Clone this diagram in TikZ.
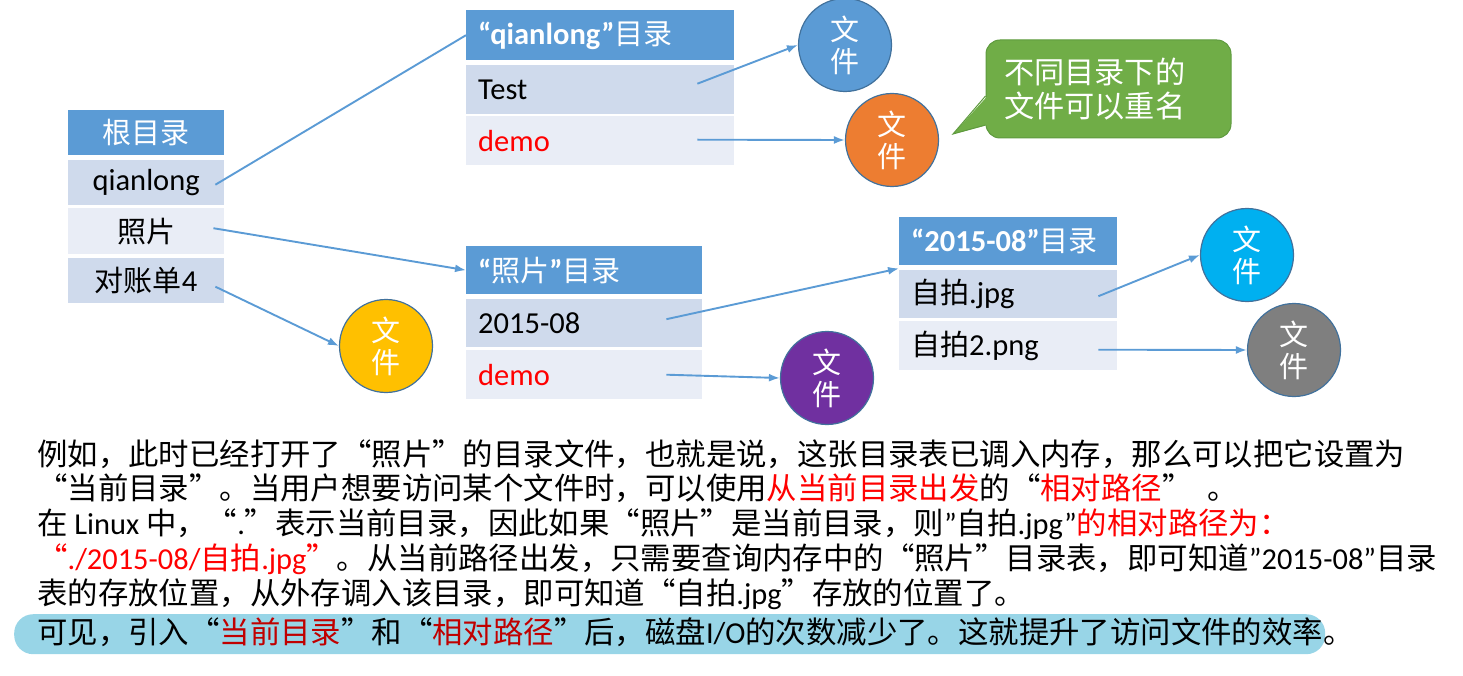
\documentclass[tikz,border=0pt]{standalone}
\usepackage{fontspec}
\setmainfont{Noto Sans CJK SC}
\newfontfamily\lat{Carlito}
\usetikzlibrary{arrows.meta}
\definecolor{hdrblue}{HTML}{5B9BD5}
\definecolor{rowdark}{HTML}{CFDAEC}
\definecolor{rowlight}{HTML}{E9EDF6}
\definecolor{arrowblue}{HTML}{5B9BD5}
\definecolor{circborder}{HTML}{41719C}
\definecolor{cblue}{HTML}{5B9BD5}
\definecolor{corange}{HTML}{ED7D31}
\definecolor{cyellow}{HTML}{FFC000}
\definecolor{cpurple}{HTML}{7030A0}
\definecolor{ccyan}{HTML}{00B0F0}
\definecolor{cgray}{HTML}{7F7F7F}
\definecolor{cgreen}{HTML}{70AD47}
\definecolor{cgreenb}{HTML}{5E9A3E}
\definecolor{hlcol}{RGB}{152,213,231}
\definecolor{dred}{HTML}{C00000}
\newcommand{\oq}{\makebox[1em][r]{“}}
\newcommand{\cq}{\makebox[1em][l]{”}}
\newcommand{\tlat}{\lat\fontsize{30.5}{32}\selectfont}
\tikzset{
  tcell/.style={rectangle, inner sep=0pt, anchor=north west, font=\fontsize{29}{32}\selectfont},
  hdr/.style={tcell, fill=hdrblue, text=white},
  rowd/.style={tcell, fill=rowdark, text=black},
  rowl/.style={tcell, fill=rowlight, text=black},
  lal/.style={text width=#1, align=left, inner xsep=12pt},
  filec/.style={circle, minimum size=93pt, inner sep=0pt, draw=circborder, line width=1.2pt, text=white, align=center, font=\fontsize{29}{32}\selectfont},
  conn/.style={draw=arrowblue, line width=1.9pt},
  arr/.style={conn, -{Latex[length=11pt,width=8pt]}},
  bodyline/.style={anchor=base west, inner sep=0pt, font=\fontsize{30.4}{35}\selectfont}
}
\begin{document}
\begin{tikzpicture}[x=1pt, y=-1pt]
\useasboundingbox (0,0) rectangle (1463,676);
% root table
\node[hdr, minimum width=156pt, minimum height=45pt] (rh) at (68,110) {根目录};
\node[rowd, minimum width=156pt, minimum height=45pt] (rq) at (68,160) {\tlat qianlong};
\node[rowl, minimum width=156pt, minimum height=46pt] (rp) at (68,208) {照片};
\node[rowd, minimum width=156pt, minimum height=45pt] (rd) at (68,258) {对账单{\tlat 4}};
% qianlong table
\node[hdr, minimum width=268pt, minimum height=50pt, lal=244pt] (qh) at (466,10) {{\tlat\bfseries “qianlong”}目录};
\node[rowd, minimum width=268pt, minimum height=49pt, lal=244pt] (qt) at (466,65) {\tlat Test};
\node[rowl, minimum width=268pt, minimum height=49pt, lal=244pt] (qd) at (466,116) {\tlat\color{red} demo};
% photo table
\node[hdr, minimum width=236pt, minimum height=48pt, lal=212pt] (ph) at (466,246) {{\tlat\bfseries “}照片{\tlat\bfseries ”}目录};
\node[rowd, minimum width=236pt, minimum height=48pt, lal=212pt] (p1) at (466,299) {\tlat 2015-08};
\node[rowl, minimum width=236pt, minimum height=49pt, lal=212pt] (p2) at (466,350) {\tlat\color{red} demo};
% 2015-08 table
\node[hdr, minimum width=218pt, minimum height=48pt, lal=194pt] (dh) at (899,217) {{\tlat\bfseries “2015-08”}目录};
\node[rowd, minimum width=218pt, minimum height=48pt, lal=194pt] (d1) at (899,270) {自拍{\tlat .jpg}};
\node[rowl, minimum width=218pt, minimum height=49pt, lal=194pt] (d2) at (899,321) {自拍{\tlat 2.png}};
% file circles
\node[filec, fill=cblue] (c1) at (845,45) {文\\件};
\node[filec, fill=corange] (c2) at (892,140) {文\\件};
\node[filec, fill=cyellow] (c3) at (386,346) {文\\件};
\node[filec, fill=cpurple] (c4) at (827,378) {文\\件};
\node[filec, fill=ccyan] (c5) at (1247,255) {文\\件};
\node[filec, fill=cgray] (c6) at (1294,350) {文\\件};
% callout
\node[rectangle, rounded corners=14pt, fill=cgreen, draw=cgreenb, line width=1pt, minimum width=245pt, minimum height=98pt, text width=209pt, align=left, inner xsep=18pt, text=white, font=\fontsize{30.2}{34}\selectfont] (co) at (1108.5,89) {不同目录下的\\文件可以重名};
\coordinate (tip) at (953,134);
\fill[cgreen] ([xshift=2pt,yshift=-7pt]co.west) -- (tip) -- ([xshift=2pt,yshift=-36pt]co.west) -- cycle;
\draw[cgreenb, line width=1pt, line join=miter] ([yshift=-7pt]co.west) -- (tip) -- ([yshift=-36pt]co.west);
% connectors
\draw[conn] ([xshift=-9pt,yshift=-2pt]rq.east) -- (qh.west);
\draw[arr] ([xshift=-11pt,yshift=3pt]rp.east) -- (ph.west);
\draw[arr] ([xshift=-9pt,yshift=-6pt]rd.east) -- (c3.west);
\draw[arr] ([xshift=-37pt,yshift=6pt]qt.east) -- (c1.west);
\draw[arr] ([xshift=-37pt,yshift=1pt]qd.east) -- (c2.west);
\draw[arr] ([xshift=-36pt,yshift=4pt]p1.east) -- ([yshift=-3pt]dh.south west);
\draw[arr] ([xshift=-36pt]p2.east) -- (c4.west);
\draw[arr] ([xshift=-19pt,yshift=-2pt]d1.east) -- (c5.west);
\draw[arr] ([xshift=-19pt,yshift=-4pt]d2.east) -- (c6.west);
% highlight
\node[rectangle, fill=hlcol, rounded corners=19pt, minimum width=1311pt, minimum height=40pt, inner sep=0pt, anchor=north west] (hlbar) at (14,614) {};
% body text
\node[bodyline] (l1) at (37,465) {例如，此时已经打开了\oq 照片\cq 的目录文件，也就是说，这张目录表已调入内存，那么可以把它设置为};
\node[bodyline] (l2) at (37,499) {\oq 当前目录\cq 。当用户想要访问某个文件时，可以使用\textcolor{red}{从当前目录出发}的\oq\textcolor{red}{相对路径}\cq\hspace{0.5em}。};
\node[bodyline] (l3) at (37,534) {在 {\lat Linux} 中，\oq{\lat .}\cq 表示当前目录，因此如果\oq 照片\cq 是当前目录，则{\lat ”}自拍{\lat .jpg”}\textcolor{red}{的相对路径为：}};
\node[bodyline] (l4) at (37,569) {\textcolor{red}{\oq{\lat ./2015-08/}自拍{\lat .jpg}\cq}。从当前路径出发，只需要查询内存中的\oq 照片\cq 目录表，即可知道{\lat ”2015-08”}目录};
\node[bodyline] (l5) at (37,604) {表的存放位置，从外存调入该目录，即可知道\oq 自拍{\lat .jpg}\cq 存放的位置了。};
\node[bodyline] (l6) at (37,643) {可见，引入\oq\textcolor{dred}{当前目录}\cq 和\oq\textcolor{dred}{相对路径}\cq 后，磁盘{\lat I/O}的次数减少了。这就提升了访问文件的效率。};
\end{tikzpicture}
\end{document}
